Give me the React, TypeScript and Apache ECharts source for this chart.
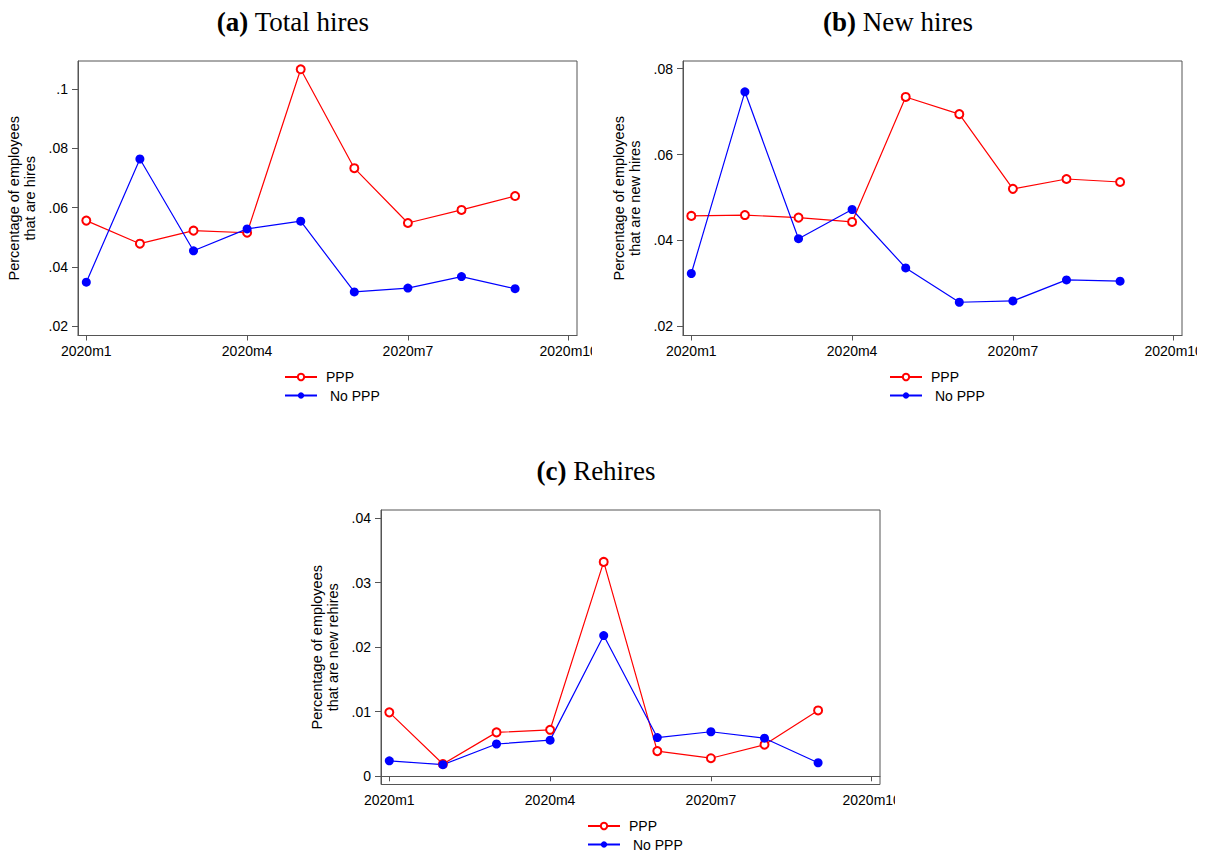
import React, { useEffect, useRef } from "react";
import * as echarts from "echarts";

// Months 2020m1 .. 2020m9 (numeric month index on the x axis)
const MONTHS = [1, 2, 3, 4, 5, 6, 7, 8, 9];
const X_TICKS = [1, 4, 7, 10];

// (a) Total hires
const TOTAL_PPP = [0.0556, 0.0478, 0.0522, 0.0515, 0.1067, 0.0733, 0.0548, 0.0592, 0.0639];
const TOTAL_NOPPP = [0.0348, 0.0764, 0.0454, 0.0528, 0.0554, 0.0315, 0.0328, 0.0367, 0.0326];
const TOTAL_TICKS = [0.02, 0.04, 0.06, 0.08, 0.1];

// (b) New hires
const NEW_PPP = [0.0457, 0.0459, 0.0453, 0.0443, 0.0734, 0.0694, 0.052, 0.0543, 0.0536];
const NEW_NOPPP = [0.0323, 0.0746, 0.0404, 0.0472, 0.0336, 0.0256, 0.0259, 0.0308, 0.0305];
const NEW_TICKS = [0.02, 0.04, 0.06, 0.08];

// (c) Rehires
const RE_PPP = [0.0099, 0.0019, 0.0068, 0.0072, 0.0332, 0.0039, 0.0028, 0.0049, 0.0102];
const RE_NOPPP = [0.0024, 0.0018, 0.005, 0.0056, 0.0218, 0.006, 0.0069, 0.0059, 0.0021];
const RE_TICKS = [0, 0.01, 0.02, 0.03, 0.04];

const SANS = "'Liberation Sans', Arial, Helvetica, sans-serif";
const SERIF = "'Liberation Serif', 'Times New Roman', serif";
const FRAME = "#555555";

const fmtY = (v: number) => {
  if (Math.abs(v) < 1e-9) return "0";
  const s = v.toFixed(2).replace(/0+$/, "");
  return s.replace(/^0/, "");
};

const legendText = {
  fontFamily: SANS,
  fontSize: 14,
  lineHeight: 14,
  color: "#000",
};

type PanelProps = {
  left: number;
  top: number;
  tag: string;
  title: string;
  yName: string;
  ppp: number[];
  noPpp: number[];
  yTicks: number[];
  yMin: number;
  yMax: number;
};

function Panel(p: PanelProps) {
  const ref = useRef<HTMLDivElement>(null);
  useEffect(() => {
    if (!ref.current) return;
    const chart = echarts.init(ref.current, undefined, { renderer: "svg" });
    chart.setOption({
      animation: false,
      title: {
        text: `{b|${p.tag}} ${p.title}`,
        left: 288,
        top: 3,
        textAlign: "center",
        textStyle: {
          fontFamily: SERIF,
          fontSize: 27,
          fontWeight: "normal",
          color: "#000",
          rich: {
            b: { fontFamily: SERIF, fontSize: 27, fontWeight: "bold", color: "#000" },
          },
        },
      },
      legend: [
        {
          left: 279,
          top: 365,
          itemWidth: 32,
          itemHeight: 8,
          data: ["PPP"],
          textStyle: { ...legendText, padding: [0, 0, 0, 4] },
        },
        {
          left: 279,
          top: 383.5,
          itemWidth: 32,
          itemHeight: 8,
          data: ["No PPP"],
          textStyle: { ...legendText, padding: [0, 0, 0, 8] },
        },
      ],
      grid: {
        left: 78,
        top: 61,
        width: 499,
        height: 274.5,
        show: true,
        borderColor: FRAME,
        borderWidth: 1,
        containLabel: false,
        outerBoundsMode: "none",
      },
      xAxis: {
        type: "value",
        min: 0.845,
        max: 10.155,
        splitLine: { show: false },
        axisLine: { show: true, lineStyle: { color: FRAME, width: 1 } },
        axisTick: {
          show: true,
          length: 5,
          customValues: X_TICKS,
          lineStyle: { color: FRAME, width: 1 },
        },
        axisLabel: {
          customValues: X_TICKS,
          margin: 8,
          fontFamily: SANS,
          fontSize: 14,
          color: "#000",
          formatter: (v: number) => `2020m${Math.round(v)}`,
        },
      },
      yAxis: {
        type: "value",
        min: p.yMin,
        max: p.yMax,
        name: p.yName,
        nameLocation: "middle",
        nameRotate: 90,
        nameGap: 40,
        nameTextStyle: { fontFamily: SANS, fontSize: 14.5, lineHeight: 15.5, color: "#000" },
        splitLine: { show: false },
        axisLine: { show: true, lineStyle: { color: FRAME, width: 1 } },
        axisTick: {
          show: true,
          length: 6,
          customValues: p.yTicks,
          lineStyle: { color: FRAME, width: 1 },
        },
        axisLabel: {
          customValues: p.yTicks,
          margin: 10,
          fontFamily: SANS,
          fontSize: 14,
          color: "#000",
          formatter: fmtY,
        },
      },
      series: [
        {
          name: "PPP",
          type: "line",
          data: MONTHS.map((m, i) => [m, p.ppp[i]]),
          color: "#ff0000",
          symbol: "emptyCircle",
          symbolSize: 8,
          lineStyle: { color: "#ff0000", width: 1.2 },
          itemStyle: { color: "#ff0000", borderColor: "#ff0000", borderWidth: 1.1 },
        },
        {
          name: "No PPP",
          type: "line",
          data: MONTHS.map((m, i) => [m, p.noPpp[i]]),
          color: "#0000ff",
          symbol: "circle",
          symbolSize: 9,
          lineStyle: { color: "#0000ff", width: 1.2 },
          itemStyle: { color: "#0000ff" },
        },
      ],
    });
    return () => chart.dispose();
  }, []);
  return (
    <div
      ref={ref}
      style={{ position: "absolute", left: p.left, top: p.top, width: 592, height: 410, overflow: "hidden" }}
    />
  );
}

export default function App() {
  return (
    <div style={{ position: "fixed", left: 0, top: 0, width: 1207, height: 855, background: "#fff" }}>
      <Panel
        left={0}
        top={0}
        tag="(a)"
        title="Total hires"
        yName={"Percentage of employees\nthat are hires"}
        ppp={TOTAL_PPP}
        noPpp={TOTAL_NOPPP}
        yTicks={TOTAL_TICKS}
        yMin={0.0168}
        yMax={0.1095}
      />
      <Panel
        left={605}
        top={0}
        tag="(b)"
        title="New hires"
        yName={"Percentage of employees\nthat are new hires"}
        ppp={NEW_PPP}
        noPpp={NEW_NOPPP}
        yTicks={NEW_TICKS}
        yMin={0.01786}
        yMax={0.08177}
      />
      <Panel
        left={302.7}
        top={448.8}
        tag="(c)"
        title="Rehires"
        yName={"Percentage of employees\nthat are new rehires"}
        ppp={RE_PPP}
        noPpp={RE_NOPPP}
        yTicks={RE_TICKS}
        yMin={-0.00127}
        yMax={0.04124}
      />
    </div>
  );
}
